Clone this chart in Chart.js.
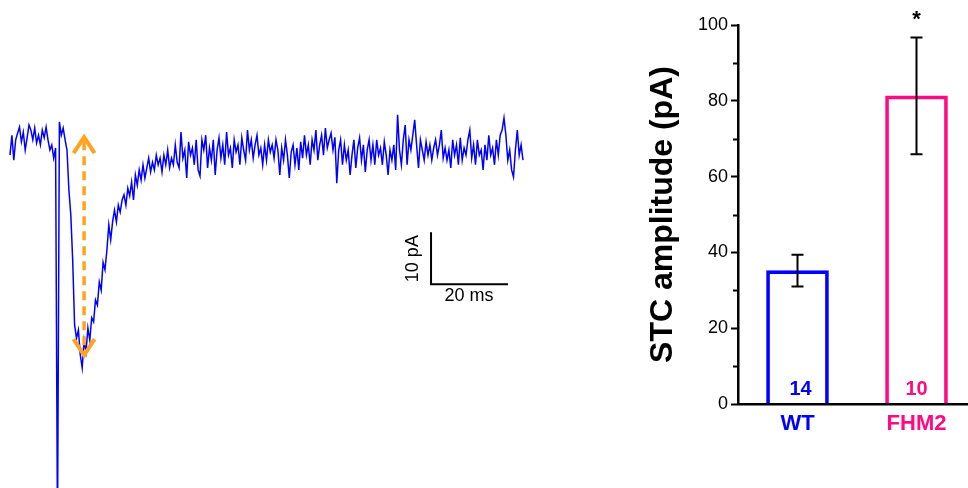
<!DOCTYPE html>
<html>
<head>
<meta charset="utf-8">
<title>STC amplitude</title>
<script src="https://cdn.jsdelivr.net/npm/chart.js@4/dist/chart.umd.min.js"></script>
<style>
  html, body { margin: 0; padding: 0; background: #fff; overflow: hidden; }
  body { width: 968px; height: 488px; position: relative; }
  #trace { position: absolute; left: 0; top: 0; }
  #bars { position: absolute; left: 640px; top: 0; }
</style>
</head>
<body>
<canvas id="trace" width="640" height="488"></canvas>
<canvas id="bars" width="336" height="488"></canvas>
<script>
// ===== Data: example current trace (pA), sampled every DT_MS =====
const DT_MS = 0.5;
const TRACE_PA = [
  -1.0, 2.9, -2.0, 2.0, 3.3, 4.5, 1.6, 3.5, 0, 2.4,
  4.9, 3.9, 2.0, 4.3, 1.4, 2.9, 1.0, 3.9, 2.4, 4.5,
  2.0, 0, 1.0, -1.6, 0.4, -75, 5.5, 2.9, 4.3, 2.0,
  0, -7.8, -12.7, -21.6, -34.3, -36.9, -35.3, -40.2, -42.7, -37.3,
  -39.6, -34.9, -37.3, -32.9, -33.7, -29.4, -30.4, -25.9, -27.5, -22.0,
  -23.5, -19.6, -14.7, -17.6, -14.1, -11.8, -14.1, -10.8, -12.2, -9.8,
  -8.8, -10.8, -7.5, -9.0, -6.3, -9.8, -4.9, -6.9, -3.9, -5.9,
  -2.9, -5.5, -3.5, -1.6, -4.3, -2.4, -3.9, -1.0, -2.9, -1.6,
  -4.3, -1.0, -2.9, 0, -3.5, -1.6, -2.9, 1.0, -2.4, -3.5,
  3.5, -1.6, 0, -5.5, 1.6, -1.0, 0.4, -2.9, 2.0, -3.9,
  -5.1, 2.0, 0, 2.9, -3.5, 0.4, -2.0, 2.0, -4.9, 0,
  2.4, -1.6, 1.0, -2.9, 3.5, -1.0, 0.4, -3.5, 2.0, -0.4,
  1.0, -2.9, 2.4, 0, -2.0, 3.9, 0, 2.0, -1.6, 1.0,
  2.9, -1.0, 0.4, -2.9, 1.0, -2.0, 2.0, -0.4, 1.0, -1.6,
  2.0, 0, -4.9, 0.4, -2.0, 2.0, -1.0, -5.5, -0.4, 1.0,
  -2.9, 0.4, -3.9, 1.6, -1.6, 2.9, -1.0, 1.0, -2.9, 2.0,
  0, 3.9, -2.0, 1.0, 2.9, -1.0, 4.3, 0.4, 2.0, 3.3,
  0, 2.5, -6.5, 0, 2.0, -2.9, 1.0, -2.0, 0, -4.9,
  -1.0, 2.0, -3.5, 0.4, 2.4, -2.0, 1.0, -4.3, 0, 2.0,
  -2.0, 1.0, -2.9, 2.0, -1.0, 0.4, -2.9, 1.6, -1.0, -4.9,
  0, -2.0, 1.0, -3.9, 6.9, 0, -2.9, 2.0, 4.9, -2.9,
  2.0, 0, 2.9, 5.9, 1.0, -3.5, 2.0, 0, -2.0, 1.6,
  -1.0, 1.0, -2.0, 0.4, 2.0, -1.0, 1.0, 3.9, -1.6, 0.4,
  -2.0, 0, -3.5, 2.0, -1.0, 1.0, -2.9, 2.4, -2.0, 0.4,
  -1.0, 2.0, 3.9, -1.6, 1.0, -2.9, 2.0, -1.0, 0, -3.9,
  1.0, -2.0, 2.9, -1.0, 0.4, -2.9, 2.0, -1.0, 2.9, 3.9,
  6.3, 2.9, -2.0, 0, -3.9, -5.3, 0, 3.9, -1.0, 1.0,
  -2.0
];

// ===== Data: summary bars =====
const GROUPS = ["WT", "FHM2"];
const MEANS = [35.2, 81.3];   // pA
const SEMS = [4.2, 15.4];     // pA
const COUNTS = ["14", "10"];
const SIGNIF = ["", "*"];
const GROUP_COLORS = ["#0000ff", "#ff0a84"];

Chart.defaults.font.family = "'Liberation Sans', Arial, sans-serif";
Chart.defaults.color = "#000";

// ===== Trace overlay: amplitude arrow + scale bar =====
const traceOverlay = {
  id: "traceOverlay",
  afterDatasetsDraw(chart) {
    const { ctx, scales: { x, y } } = chart;
    ctx.save();

    // orange dashed double arrow marking the peak amplitude
    const ax = x.getPixelForValue(19.5);
    const aTop = y.getPixelForValue(2.9);
    const aBot = y.getPixelForValue(-40.6);
    ctx.strokeStyle = "#ffa31f";
    ctx.lineWidth = 3.5;
    ctx.setLineDash([9, 6]);
    ctx.beginPath();
    ctx.moveTo(ax, aTop + 6);
    ctx.lineTo(ax, aBot - 6);
    ctx.stroke();
    ctx.setLineDash([]);
    ctx.lineWidth = 4;
    ctx.lineJoin = "miter";
    ctx.beginPath();
    ctx.moveTo(ax - 10.5, aTop + 18);
    ctx.lineTo(ax, aTop + 2);
    ctx.lineTo(ax + 10.5, aTop + 18);
    ctx.moveTo(ax - 10.5, aBot - 18);
    ctx.lineTo(ax, aBot - 2);
    ctx.lineTo(ax + 10.5, aBot - 18);
    ctx.stroke();

    // scale bar: 10 pA / 20 ms
    const sx0 = x.getPixelForValue(110.8);
    const sx1 = x.getPixelForValue(110.8 + 20);
    const sy0 = y.getPixelForValue(-26.3);
    const sy1 = y.getPixelForValue(-26.3 + 10);
    ctx.strokeStyle = "#000";
    ctx.lineWidth = 2;
    ctx.lineCap = "square";
    ctx.beginPath();
    ctx.moveTo(sx0, sy1);
    ctx.lineTo(sx0, sy0);
    ctx.lineTo(sx1, sy0);
    ctx.stroke();

    ctx.fillStyle = "#000";
    ctx.font = "18px 'Liberation Sans', Arial, sans-serif";
    ctx.textAlign = "center";
    ctx.textBaseline = "top";
    ctx.fillText("20 ms", (sx0 + sx1) / 2, sy0 + 3);
    ctx.translate(sx0 - 18, (sy0 + sy1) / 2);
    ctx.rotate(-Math.PI / 2);
    ctx.textBaseline = "middle";
    ctx.fillText("10 pA", 0, 0);
    ctx.restore();
  }
};

new Chart(document.getElementById("trace"), {
  type: "line",
  data: {
    datasets: [{
      data: TRACE_PA.map((v, i) => ({ x: i * DT_MS, y: v })),
      borderColor: "#0000ff",
      borderWidth: 1.5,
      pointRadius: 0,
      tension: 0
    }]
  },
  options: {
    responsive: false,
    animation: false,
    events: [],
    layout: { padding: 0, autoPadding: false },
    plugins: { legend: { display: false }, tooltip: { enabled: false } },
    scales: {
      x: { type: "linear", display: false, min: -2.63, max: 165.79 },
      y: { type: "linear", display: false, min: -66.27, max: 29.41 }
    }
  },
  plugins: [traceOverlay]
});

// ===== Bar overlay: error bars, n labels, significance, minor ticks =====
const barOverlay = {
  id: "barOverlay",
  afterDatasetsDraw(chart) {
    const { ctx, scales: { x, y } } = chart;
    const bars = chart.getDatasetMeta(0).data;
    ctx.save();

    // minor ticks on the y axis
    ctx.strokeStyle = "#000";
    ctx.lineWidth = 2;
    [10, 30, 50, 70, 90].forEach(v => {
      const py = Math.round(y.getPixelForValue(v)) + 0.5;
      ctx.beginPath();
      ctx.moveTo(x.left - 1, py);
      ctx.lineTo(x.left - 5, py);
      ctx.stroke();
    });

    bars.forEach((bar, i) => {
      const cx = bar.x;
      const yHi = y.getPixelForValue(MEANS[i] + SEMS[i]);
      const yLo = y.getPixelForValue(MEANS[i] - SEMS[i]);
      ctx.strokeStyle = "#000";
      ctx.lineWidth = 2;
      ctx.beginPath();
      ctx.moveTo(cx, yHi);
      ctx.lineTo(cx, yLo);
      ctx.moveTo(cx - 6, yHi);
      ctx.lineTo(cx + 6, yHi);
      ctx.moveTo(cx - 6, yLo);
      ctx.lineTo(cx + 6, yLo);
      ctx.stroke();

      ctx.textAlign = "center";
      ctx.textBaseline = "alphabetic";
      ctx.fillStyle = GROUP_COLORS[i];
      ctx.font = "bold 20px 'Liberation Sans', Arial, sans-serif";
      ctx.fillText(COUNTS[i], cx + (i === 0 ? 3 : 0), y.bottom - 9);

      if (SIGNIF[i]) {
        ctx.fillStyle = "#000";
        ctx.font = "bold 22px 'Liberation Sans', Arial, sans-serif";
        ctx.fillText(SIGNIF[i], cx, yHi - 12);
      }
    });
    ctx.restore();
  }
};

new Chart(document.getElementById("bars"), {
  type: "bar",
  data: {
    labels: GROUPS,
    datasets: [{
      data: MEANS,
      backgroundColor: "rgba(255,255,255,0)",
      borderColor: GROUP_COLORS,
      borderWidth: 3,
      barThickness: 62
    }]
  },
  options: {
    responsive: false,
    animation: false,
    events: [],
    layout: { padding: { top: 25, left: 0, right: 0, bottom: 0 }, autoPadding: false },
    plugins: { legend: { display: false }, tooltip: { enabled: false } },
    scales: {
      x: {
        type: "category",
        offset: true,
        grid: { display: false, drawTicks: false },
        border: { display: true, color: "#000", width: 2.5 },
        ticks: {
          color: ctx => GROUP_COLORS[ctx.index],
          font: { size: 22, weight: "bold" },
          padding: 7
        },
        afterFit: s => { s.height = 84; }
      },
      y: {
        min: 0,
        max: 100,
        ticks: { stepSize: 20, color: "#000", font: { size: 18 }, padding: 3 },
        grid: { drawOnChartArea: false, drawTicks: true, tickLength: 7, tickWidth: 2, color: "#000" },
        border: { display: true, color: "#000", width: 2.5 },
        title: {
          display: true,
          text: "STC amplitude (pA)",
          color: "#000",
          font: { size: 32, weight: "bold" },
          padding: { top: 4, bottom: 0 }
        },
        afterFit: s => { s.width = 98; }
      }
    }
  },
  plugins: [barOverlay]
});
</script>
</body>
</html>
